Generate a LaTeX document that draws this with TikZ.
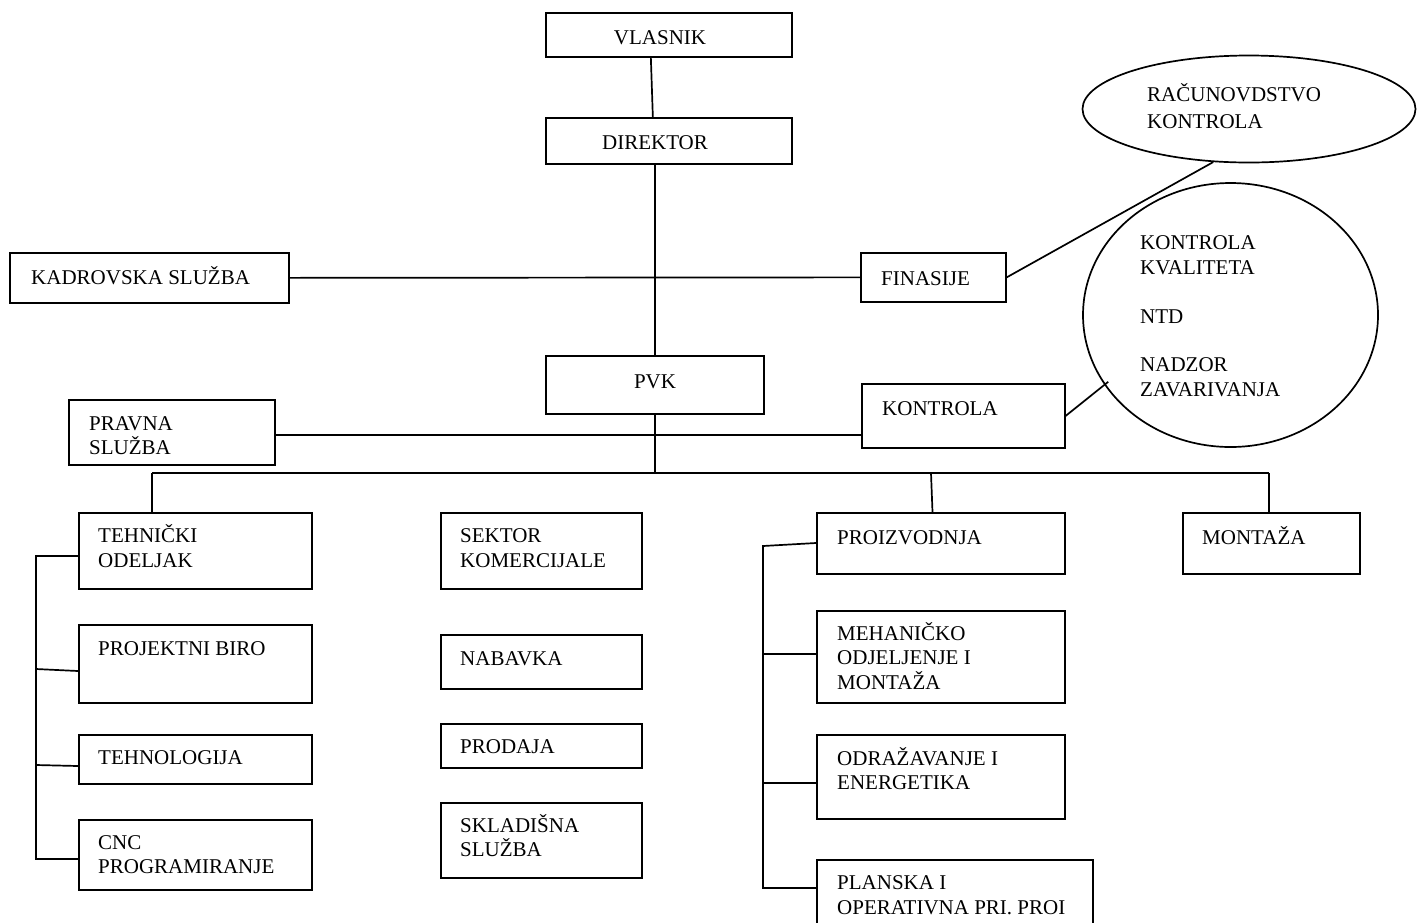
\documentclass[tikz,border=0pt]{standalone}
\usepackage{fontspec}
\setmainfont{Liberation Serif}
\usetikzlibrary{shapes.geometric,calc}
\newcommand\bx[5]{\node[bx,minimum width={#4-#2},minimum height={#5-#3},anchor=north west] (#1) at (#2,#3) {};}
\newcommand\tx[4]{\node[lbl] (#1) at (#2,#3) {#4};}
\tikzset{
  bx/.style={draw,line width=1.7pt,inner sep=0pt,rectangle},
  lbl/.style={anchor=base west,inner sep=0pt,font=\fontsize{21}{24}\selectfont},
  lblc/.style={anchor=base,inner sep=0pt,font=\fontsize{21}{24}\selectfont},
  ln/.style={line width=1.7pt},
  ov/.style={draw,ellipse,line width=1.7pt,inner sep=0pt}
}
\begin{document}
\begin{tikzpicture}[x=1pt,y=-1pt]
\clip (0,0) rectangle (1423,922);
\fill[white] (0,0) rectangle (1423,922);
% boxes
\bx{vl}{545}{12}{791}{56}
\bx{dir}{545}{117}{791}{163}
\bx{kad}{9}{252}{288}{302}
\bx{fin}{860}{252}{1005}{301}
\bx{pvk}{545}{355}{763}{413}
\bx{prav}{68}{399}{274}{464}
\bx{kon}{861}{383}{1064}{447}
\bx{teh}{78}{512}{311}{588}
\bx{proj}{78}{624}{311}{702}
\bx{tehn}{78}{734}{311}{783}
\bx{cnc}{78}{819}{311}{889}
\bx{sek}{440}{512}{641}{588}
\bx{nab}{440}{634}{641}{688}
\bx{prod}{440}{723}{641}{767}
\bx{skl}{440}{802}{641}{877}
\bx{proiz}{816}{512}{1064}{573}
\bx{mech}{816}{610}{1064}{702}
\bx{odr}{816}{734}{1064}{818}
\bx{plan}{816}{859}{1092}{945}
\bx{mon}{1182}{512}{1359}{573}
% ovals
\node[ov,minimum width=333,minimum height=107] (rac) at (1249,109) {};
\node[ov,minimum width=295,minimum height=264] (kc) at (1230.5,315) {};
% texts
\node[lblc] (tvl) at (660,44) {VLASNIK};
\node[lblc] (tdir) at (655,149) {DIREKTOR};
\node[lblc] (tpvk) at (655,388) {PVK};
\tx{tr1}{1147}{101}{RAČUNOVDSTVO}
\tx{tr2}{1147}{128}{KONTROLA}
\tx{tkad}{31}{284}{KADROVSKA SLUŽBA}
\tx{tfin}{881}{285}{FINASIJE}
\tx{tk1}{1140}{249}{KONTROLA}
\tx{tk2}{1140}{274}{KVALITETA}
\tx{tk3}{1140}{323}{NTD}
\tx{tk4}{1140}{371}{NADZOR}
\tx{tk5}{1140}{396}{ZAVARIVANJA}
\tx{tp1}{89}{430}{PRAVNA}
\tx{tp2}{89}{454}{SLUŽBA}
\tx{tkon}{882}{415}{KONTROLA}
\tx{tt1}{98}{542}{TEHNIČKI}
\tx{tt2}{98}{567}{ODELJAK}
\tx{tpb}{98}{655}{PROJEKTNI BIRO}
\tx{ttl}{98}{764}{TEHNOLOGIJA}
\tx{tc1}{98}{849}{CNC}
\tx{tc2}{98}{873}{PROGRAMIRANJE}
\tx{ts1}{460}{542}{SEKTOR}
\tx{ts2}{460}{567}{KOMERCIJALE}
\tx{tnab}{460}{665}{NABAVKA}
\tx{tprod}{460}{753}{PRODAJA}
\tx{tsk1}{460}{832}{SKLADIŠNA}
\tx{tsk2}{460}{856}{SLUŽBA}
\tx{tpr}{837}{544}{PROIZVODNJA}
\tx{tmon}{1202}{544}{MONTAŽA}
\tx{tm1}{837}{640}{MEHANIČKO}
\tx{tm2}{837}{664}{ODJELJENJE I}
\tx{tm3}{837}{689}{MONTAŽA}
\tx{to1}{837}{765}{ODRAŽAVANJE I}
\tx{to2}{837}{789}{ENERGETIKA}
\tx{tpl1}{837}{889}{PLANSKA I}
\tx{tpl2}{837}{914}{OPERATIVNA PRI. PROI}
% coordinates
\coordinate (busL) at (152,473);
\coordinate (busR) at (1269,473);
\coordinate (busP) at (931,473);
\coordinate (ls1) at (36,556);
\coordinate (ls2) at (36,669);
\coordinate (ls3) at (36,765);
\coordinate (ls4) at (36,859);
\coordinate (rs1) at (763,545);
\coordinate (rs2) at (763,654);
\coordinate (rs3) at (763,783);
\coordinate (rs4) at (763,888);
% connectors
\draw[ln] ([xshift=-18]vl.south) -- ([xshift=-16]dir.north);
\draw[ln] (pvk.north |- dir.south) -- (pvk.north);
\draw[ln] (kad.east) -- (fin.west);
\draw[ln] (fin.east) -- (rac.236);
\draw[ln] ([yshift=-2.5]prav.east) -- ([yshift=-2.5]prav.east -| kon.west);
\draw[ln,shorten >=-5pt] (kon.east) -- (kc.209);
\draw[ln] (pvk.south) -- (pvk.south |- busL);
\draw[ln] (busL) -- (busR);
\draw[ln] (busL) -- (busL |- teh.north);
\draw[ln] (busP) -- ([xshift=1.5]busP |- proiz.north);
\draw[ln] (busR) -- (busR |- mon.north);
\draw[ln] (ls1 -| teh.west) -- (ls1) -- (ls4) -- (ls4 -| cnc.west);
\draw[ln] (ls2) -- ([yshift=-2]ls2 -| proj.west);
\draw[ln] (ls3) -- ([yshift=-1]ls3 -| tehn.west);
\draw[ln] ([yshift=2]rs1 -| proiz.west) -- ([yshift=-1]rs1) -- (rs4) -- (rs4 -| plan.west);
\draw[ln] (rs2) -- (rs2 -| mech.west);
\draw[ln] (rs3) -- (rs3 -| odr.west);
\end{tikzpicture}
\end{document}
